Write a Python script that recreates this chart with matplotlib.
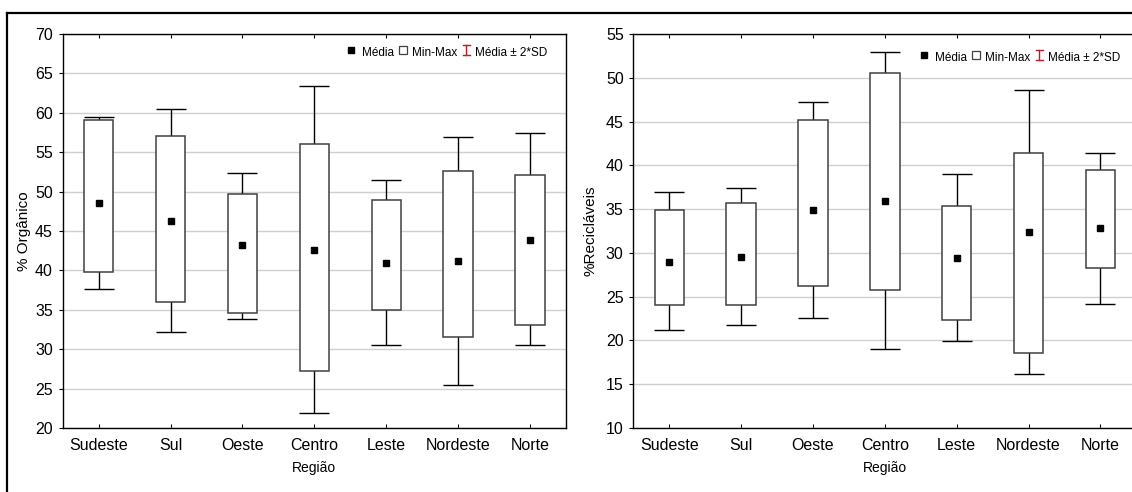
import matplotlib.pyplot as plt
from matplotlib.lines import Line2D

plt.rcParams["font.family"] = ["Liberation Sans", "DejaVu Sans"]

REGIOES = ["Sudeste", "Sul", "Oeste", "Centro", "Leste", "Nordeste", "Norte"]

# % Orgânico
org_min = [39.8, 35.96, 34.56, 27.28, 34.99, 31.52, 33.08]
org_max = [59.03, 57.04, 49.64, 56.1, 48.92, 52.56, 52.13]
org_mean = [48.5, 46.3, 43.16, 42.65, 40.96, 41.21, 43.88]
org_lo = [37.6, 32.24, 33.89, 21.86, 30.5, 25.46, 30.5]   # media - 2*SD
org_hi = [59.46, 60.47, 52.3, 63.44, 51.46, 56.92, 57.38]  # media + 2*SD

# % Recicláveis
rec_min = [24.09, 24.09, 26.27, 25.77, 22.3, 18.53, 28.25]
rec_max = [34.95, 35.68, 45.17, 50.5, 35.41, 41.43, 39.45]
rec_mean = [28.97, 29.5, 34.88, 35.98, 29.39, 32.36, 32.82]
rec_lo = [21.16, 21.73, 22.53, 19.02, 19.98, 16.2, 24.21]
rec_hi = [36.94, 37.43, 47.19, 52.98, 39.0, 48.6, 41.43]

BOX_EDGE = "#404040"
SD_RED = "#b22222"


def draw_legend(ax, x0, y0):
    kw = dict(transform=ax.transAxes, clip_on=False)
    ty = y0 - 0.007
    fs = 8.5
    ax.plot([x0], [y0], marker="s", ms=5, color="black", ls="none", **kw)
    ax.text(x0 + 0.021, ty, "Média", fontsize=fs, va="center", transform=ax.transAxes)
    ax.plot([x0 + 0.104], [y0], marker="s", ms=5.5, mfc="white", mec=BOX_EDGE,
            mew=0.9, ls="none", **kw)
    ax.text(x0 + 0.122, ty, "Min-Max", fontsize=fs, va="center", transform=ax.transAxes)
    xi = x0 + 0.229
    ax.plot([xi, xi], [y0 - 0.012, y0 + 0.012], color=SD_RED, lw=1, **kw)
    for yy in (y0 - 0.012, y0 + 0.012):
        ax.plot([xi - 0.007, xi + 0.007], [yy, yy], color=SD_RED, lw=1, **kw)
    ax.text(x0 + 0.246, ty, "Média ± 2*SD", fontsize=fs, va="center",
            transform=ax.transAxes)


def draw_panel(ax, mins, maxs, means, los, his, ylim, ylabel, lpad):
    xs = list(range(1, len(REGIOES) + 1))
    lower = [m - l for m, l in zip(means, los)]
    upper = [h - m for m, h in zip(means, his)]
    ax.errorbar(xs, means, yerr=[lower, upper], fmt="none", ecolor="black",
                elinewidth=1, capsize=10.5, capthick=1, zorder=2)
    heights = [mx - mn for mn, mx in zip(mins, maxs)]
    ax.bar(xs, heights, bottom=mins, width=0.41, color="white",
           edgecolor=BOX_EDGE, linewidth=1.1, zorder=3)
    ax.plot(xs, means, ls="none", marker="s", ms=4.8, color="black", zorder=4)

    ax.set_xlim(0.5, 7.5)
    ax.set_ylim(*ylim)
    ax.set_yticks(range(ylim[0], ylim[1] + 1, 5))
    ax.set_xticks(xs)
    ax.set_xticklabels(REGIOES)
    ax.yaxis.grid(True, color="#d0d0d0", lw=1)
    ax.set_axisbelow(True)
    ax.tick_params(axis="x", direction="in", top=True, length=3, pad=7, labelsize=11.5)
    ax.tick_params(axis="y", direction="out", length=3, pad=4, labelsize=11.5)
    for s in ax.spines.values():
        s.set_linewidth(1)
    ax.set_xlabel("Região", fontsize=10, labelpad=6)
    ax.set_ylabel(ylabel, fontsize=11, labelpad=lpad)


fig = plt.figure(figsize=(11.32, 4.92), dpi=100)
ax1 = fig.add_axes([0.0554, 0.1301, 0.4446, 0.8008])
ax2 = fig.add_axes([0.5595, 0.1301, 0.4443, 0.8008])

draw_panel(ax1, org_min, org_max, org_mean, org_lo, org_hi, (20, 70), "% Orgânico", 3)
draw_panel(ax2, rec_min, rec_max, rec_mean, rec_lo, rec_hi, (10, 55), "%Recicláveis", 6)
draw_legend(ax1, 0.573, 0.959)
draw_legend(ax2, 0.578, 0.947)

# outer frame (top and left edges visible in the original)
fig.add_artist(Line2D([0.0062, 1.0], [0.9736, 0.9736], color="black", lw=1.6))
fig.add_artist(Line2D([0.0062, 0.0062], [0.0, 0.9736], color="black", lw=1.6))

fig.savefig("out.png", dpi=100)
